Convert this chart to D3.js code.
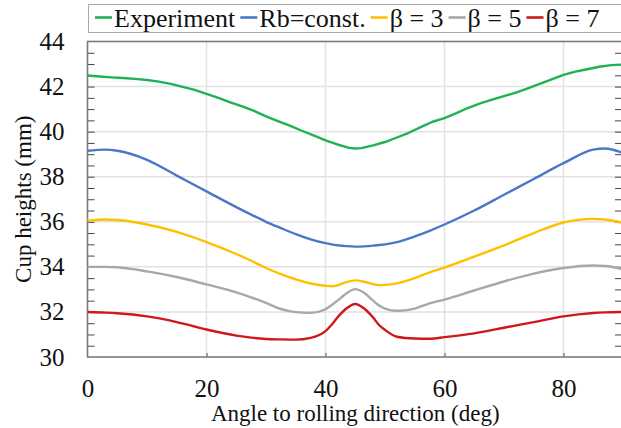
<!DOCTYPE html>
<html>
<head>
<meta charset="utf-8">
<script src="https://cdn.jsdelivr.net/npm/d3@7/dist/d3.min.js"></script>
<style>
  html, body { margin: 0; padding: 0; background: #fff; }
  svg text { font-family: "Liberation Serif", "Times New Roman", Times, serif !important; }
</style>
</head>
<body>
<svg id="chart" width="621" height="428"></svg>
<script>
// Cup height profile versus angle to the rolling direction
const angles = [0, 2, 4, 6, 8, 10, 12, 14, 16, 18, 20, 22, 24, 26, 28, 30, 32, 34, 36, 38, 40, 42, 44, 45,
                46, 48, 50, 52, 54, 56, 58, 60, 62, 64, 66, 68, 70, 72, 74, 76, 78, 80, 82, 84, 86, 88, 90];

const experiment = [42.49, 42.45, 42.41, 42.38, 42.34, 42.29, 42.22, 42.12, 41.99, 41.85, 41.68, 41.5, 41.3, 41.12, 40.92, 40.68,
                    40.47, 40.27, 40.04, 39.83, 39.61, 39.43, 39.28, 39.25, 39.27, 39.39, 39.54, 39.74, 39.95, 40.2, 40.44,
                    40.6, 40.82, 41.06, 41.25, 41.42, 41.58, 41.73, 41.92, 42.12, 42.32, 42.52, 42.66, 42.77, 42.88, 42.95, 42.98];

const modelAngles = [0, 3, 5, 10, 15, 20, 25, 27.5, 30, 32.5, 35, 37.5, 40, 41, 42, 43.5, 45, 46.5, 48, 49, 50, 52, 55, 57.5,
                     60, 65, 70, 75, 80, 85, 87, 90];

const rbConst = [39.15, 39.2, 39.15, 38.75, 38.05, 37.35, 36.65, 36.32, 36.0, 35.72, 35.45, 35.22, 35.05, 35.0, 34.96, 34.92, 34.9,
                 34.91, 34.94, 34.97, 35.0, 35.1, 35.35, 35.6, 35.88, 36.5, 37.2, 37.9, 38.6, 39.2, 39.25, 39.05];

const beta3 = [36.05, 36.1, 36.08, 35.88, 35.55, 35.1, 34.57, 34.27, 33.95, 33.68, 33.45, 33.26, 33.16, 33.14, 33.18, 33.32, 33.4,
               33.34, 33.23, 33.19, 33.2, 33.27, 33.5, 33.76, 33.97, 34.45, 34.95, 35.5, 35.97, 36.13, 36.1, 35.95];

const beta5 = [34.0, 34.0, 33.98, 33.8, 33.55, 33.22, 32.87, 32.65, 32.4, 32.13, 31.99, 31.96, 32.12, 32.3, 32.5, 32.82, 33.01,
               32.85, 32.5, 32.28, 32.15, 32.05, 32.15, 32.38, 32.55, 32.95, 33.35, 33.7, 33.95, 34.06, 34.04, 33.9];

const beta7 = [32.0, 31.97, 31.94, 31.8, 31.55, 31.22, 30.95, 30.86, 30.8, 30.78, 30.77, 30.85, 31.15, 31.42, 31.75, 32.15, 32.35,
               32.15, 31.75, 31.42, 31.2, 30.9, 30.82, 30.81, 30.88, 31.05, 31.3, 31.55, 31.8, 31.95, 31.98, 32.0];

const seriesNames = ["Experiment", "Rb=const.", "\u03b2 = 3", "\u03b2 = 5", "\u03b2 = 7"];
const seriesColors = ["#1fb155", "#4a78c8", "#ffc000", "#a8a8a8", "#d01818"];

const xTickValues = [0, 20, 40, 60, 80];
const yTickValues = [30, 32, 34, 36, 38, 40, 42, 44];

const xTitle = "Angle to rolling direction (deg)";
const yTitle = "Cup heights (mm)";

const series = [
  { name: seriesNames[0], color: seriesColors[0], xs: angles, ys: experiment, curve: d3.curveLinear },
  { name: seriesNames[1], color: seriesColors[1], xs: modelAngles, ys: rbConst, curve: d3.curveMonotoneX },
  { name: seriesNames[2], color: seriesColors[2], xs: modelAngles, ys: beta3, curve: d3.curveMonotoneX },
  { name: seriesNames[3], color: seriesColors[3], xs: modelAngles, ys: beta5, curve: d3.curveMonotoneX },
  { name: seriesNames[4], color: seriesColors[4], xs: modelAngles, ys: beta7, curve: d3.curveMonotoneX }
];

const svg = d3.select("#chart");
const plot = { left: 87.5, right: 623, top: 41.5, bottom: 357 };

const x = d3.scaleLinear().domain([0, 90]).range([plot.left, plot.right]);
const y = d3.scaleLinear().domain([30, 44]).range([plot.bottom, plot.top]);

// grid lines
const grid = svg.append("g").attr("class", "grid");
grid.selectAll("line.v").data(xTickValues.filter(v => v > 0)).join("line")
  .attr("x1", d => x(d)).attr("x2", d => x(d))
  .attr("y1", plot.top).attr("y2", plot.bottom)
  .attr("stroke", "#e2e2e2").attr("stroke-width", 1.5);
grid.selectAll("line.h").data(yTickValues.filter(v => v > 30 && v < 44)).join("line")
  .attr("x1", plot.left).attr("x2", plot.right)
  .attr("y1", d => y(d)).attr("y2", d => y(d))
  .attr("stroke", "#e2e2e2").attr("stroke-width", 1.5);

// inner minor ticks every 0.5 mm on both side axes
const minorY = d3.range(30.5, 44, 0.5);
const leftTicks = svg.append("g").attr("transform", `translate(${plot.left},0)`)
  .call(d3.axisRight(y).tickValues(minorY).tickSize(7).tickFormat(""));
const rightTicks = svg.append("g").attr("transform", `translate(${plot.right},0)`)
  .call(d3.axisLeft(y).tickValues(minorY).tickSize(8).tickFormat(""));
[leftTicks, rightTicks].forEach(g => {
  g.select(".domain").remove();
  g.selectAll(".tick line").attr("stroke", "#444").attr("stroke-width", 1);
});

// inner ticks on the angle axis
const bottomTicks = svg.append("g").attr("transform", `translate(0,${plot.bottom})`)
  .call(d3.axisTop(x).tickValues(xTickValues.filter(v => v > 0)).tickSize(4).tickFormat(""));
bottomTicks.select(".domain").remove();
bottomTicks.selectAll(".tick line").attr("stroke", "#555");

// frame
svg.append("rect")
  .attr("x", plot.left).attr("y", plot.top)
  .attr("width", plot.right - plot.left).attr("height", plot.bottom - plot.top)
  .attr("fill", "none").attr("stroke", "#7a7a7a").attr("stroke-width", 1.6);

// curves
const lineGen = s => d3.line()
  .x((d, i) => x(s.xs[i]))
  .y(d => y(d))
  .curve(s.curve);

svg.append("g").selectAll("path").data(series).join("path")
  .attr("d", s => lineGen(s)(s.ys))
  .attr("fill", "none")
  .attr("stroke", s => s.color)
  .attr("stroke-width", 2.4)
  .attr("stroke-linejoin", "round");

// tick labels
const yAxis = svg.append("g").attr("transform", `translate(${plot.left},0)`)
  .call(d3.axisLeft(y).tickValues(yTickValues).tickSize(0).tickPadding(23).tickFormat(d3.format("d")));
yAxis.select(".domain").remove();
yAxis.selectAll("text").attr("font-size", 25).attr("fill", "#111");

const xAxis = svg.append("g").attr("transform", `translate(0,${plot.bottom})`)
  .call(d3.axisBottom(x).tickValues(xTickValues).tickSize(0).tickPadding(22).tickFormat(d3.format("d")));
xAxis.select(".domain").remove();
xAxis.selectAll("text").attr("font-size", 25).attr("fill", "#111");

// axis titles
svg.append("text")
  .attr("x", x(45)).attr("y", 421)
  .attr("text-anchor", "middle")
  .attr("font-size", 23).attr("fill", "#111")
  .text(xTitle);

svg.append("text")
  .attr("transform", `translate(31,${(plot.top + plot.bottom) / 2}) rotate(-90)`)
  .attr("text-anchor", "middle")
  .attr("font-size", 23).attr("fill", "#111")
  .text(yTitle);

// legend
const legend = svg.append("g");
legend.append("rect")
  .attr("x", 88.5).attr("y", 4.5).attr("width", 540).attr("height", 28)
  .attr("fill", "#fff").attr("stroke", "#a8a8a8").attr("stroke-width", 1);

let lx = 95;
series.forEach(s => {
  legend.append("line")
    .attr("x1", lx).attr("x2", lx + 17).attr("y1", 17.5).attr("y2", 17.5)
    .attr("stroke", s.color).attr("stroke-width", 2.6);
  const t = legend.append("text")
    .attr("x", lx + 19).attr("y", 27)
    .attr("font-size", 26).attr("fill", "#111")
    .text(s.name);
  lx = lx + 19 + t.node().getComputedTextLength() + 5;
});
</script>
</body>
</html>
